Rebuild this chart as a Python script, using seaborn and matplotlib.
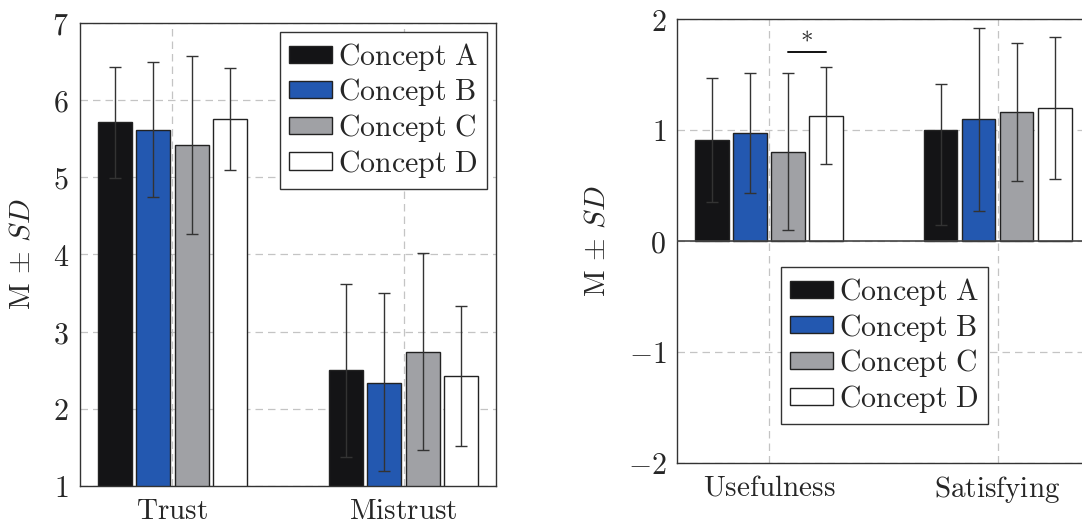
import pandas as pd
import numpy as np
import matplotlib
matplotlib.use("Agg")
import matplotlib.pyplot as plt
import seaborn as sns

sns.set_style("white")
plt.rcParams["mathtext.fontset"] = "cm"

# data
concepts = ["Concept A", "Concept B", "Concept C", "Concept D"]
colors = ["#141416", "#2358b0", "#a0a1a5", "#ffffff"]

left_cats = ["Trust", "Mistrust"]
left_means = {"Concept A": [5.71, 2.50], "Concept B": [5.61, 2.34],
              "Concept C": [5.42, 2.73], "Concept D": [5.76, 2.42]}
left_err_lo = {"Concept A": [0.72, 1.13], "Concept B": [0.87, 1.14],
               "Concept C": [1.16, 1.27], "Concept D": [0.67, 0.90]}
left_err_hi = {"Concept A": [0.72, 1.12], "Concept B": [0.88, 1.16],
               "Concept C": [1.15, 1.29], "Concept D": [0.66, 0.91]}

right_cats = ["Usefulness", "Satisfying"]
right_means = {"Concept A": [0.91, 1.00], "Concept B": [0.97, 1.10],
               "Concept C": [0.80, 1.16], "Concept D": [1.13, 1.20]}
right_err_lo = {"Concept A": [0.56, 0.86], "Concept B": [0.54, 0.83],
                "Concept C": [0.70, 0.62], "Concept D": [0.44, 0.64]}
right_err_hi = {"Concept A": [0.56, 0.41], "Concept B": [0.54, 0.82],
                "Concept C": [0.71, 0.62], "Concept D": [0.44, 0.64]}

sig_y = 1.70
sig_label = r"$*$"


def make_df(cats, means):
    rows = []
    for c in concepts:
        for cat, m in zip(cats, means[c]):
            rows.append({"cat": cat, "concept": c, "value": m})
    return pd.DataFrame(rows)


def draw_panel(ax, cats, means, err_lo, err_hi, ylim, yticks):
    df = make_df(cats, means)
    ax.set_axisbelow(True)
    sns.barplot(data=df, x="cat", y="value", hue="concept", hue_order=concepts,
                palette=colors, saturation=1, width=0.665, gap=0.11, errorbar=None,
                edgecolor="#222222", linewidth=1.0, legend=False, ax=ax)
    ax.grid(True, axis="both", color="#c4c4c4", lw=0.9, dashes=(6, 4))
    centers = {}
    for c, cont in zip(concepts, ax.containers):
        xs = [p.get_x() + p.get_width() / 2 for p in cont]
        centers[c] = xs
        ax.errorbar(xs, means[c], yerr=[err_lo[c], err_hi[c]], fmt="none",
                    ecolor="#333333", elinewidth=1.0, capsize=4.5, capthick=1.0,
                    zorder=5)
    ax.set_xlim(-0.4, 1.4)
    ax.set_ylim(*ylim)
    ax.set_yticks(yticks)
    ax.set_yticklabels([f"${v}$" for v in yticks], fontsize=21.5)
    ax.set_xticks([0, 1])
    ax.set_xticklabels([r"$\mathrm{%s}$" % c for c in cats], fontsize=21)
    ax.tick_params(length=0, pad=8)
    ax.set_xlabel("")
    ax.set_ylabel(r"$\mathrm{M}\,\pm\,SD$", fontsize=21, labelpad=12)
    for s in ax.spines.values():
        s.set_color("#333333")
        s.set_linewidth(1.0)
    handles = [plt.Rectangle((0, 0), 1, 1, facecolor=col, edgecolor="#222222", lw=1.0)
               for col in colors]
    labels = [r"$\mathrm{%s}$" % c.replace(" ", r"\ ") for c in concepts]
    return centers, handles, labels


legend_kw = dict(fontsize=21.5, frameon=True, fancybox=False, framealpha=1,
                 edgecolor="#333333", handlelength=1.45, handleheight=0.5,
                 handletextpad=0.2, labelspacing=0.12, borderpad=0.3)

fig = plt.figure(figsize=(10.82, 5.25), dpi=100)
ax1 = fig.add_axes([0.0739, 0.0743, 0.3845, 0.882])
ax2 = fig.add_axes([0.626, 0.1187, 0.3805, 0.845])

c1, h, l = draw_panel(ax1, left_cats, left_means, left_err_lo, left_err_hi,
                      (1, 7), [1, 2, 3, 4, 5, 6, 7])
leg = ax1.legend(h, l, loc="upper right", borderaxespad=0.3, **legend_kw)
leg.get_frame().set_linewidth(1.0)

c2, h, l = draw_panel(ax2, right_cats, right_means, right_err_lo, right_err_hi,
                      (-2, 2), [-2, -1, 0, 1, 2])
ax2.axhline(0, color="#444444", lw=1.2, zorder=4)
leg = ax2.legend(h, l, loc="upper left", bbox_to_anchor=(0.252, 0.441),
                 borderaxespad=0, **legend_kw)
leg.get_frame().set_linewidth(1.0)

# significance marker between Concept C and D on Usefulness
xa, xb = c2["Concept C"][0], c2["Concept D"][0]
ax2.plot([xa, xb], [sig_y, sig_y], color="#111111", lw=1.4, zorder=6)
ax2.text((xa + xb) / 2, sig_y + 0.05, sig_label, ha="center", va="bottom", fontsize=18)

fig.savefig("out.png", dpi=100)
